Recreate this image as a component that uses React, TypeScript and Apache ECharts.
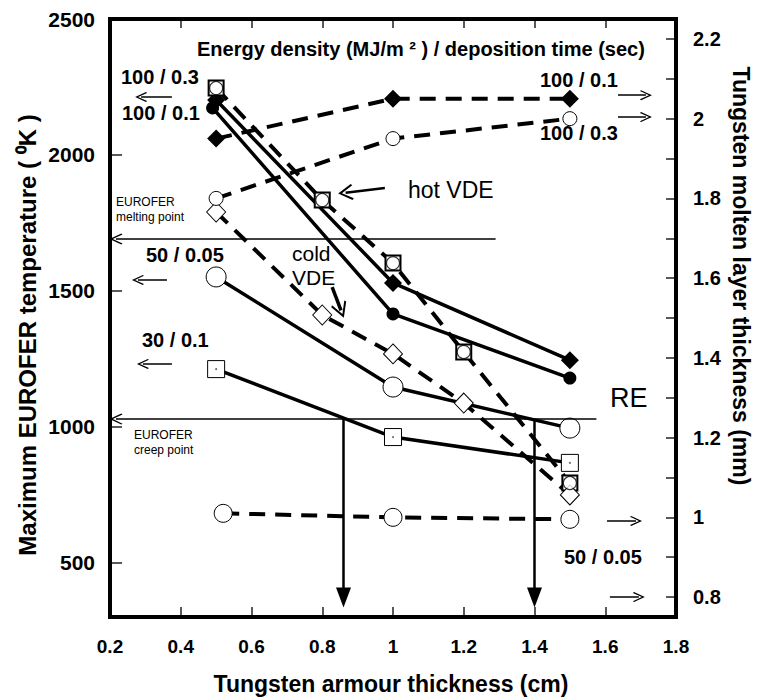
import React, { useEffect, useRef } from 'react';
import * as echarts from 'echarts';

// ---------- data ----------
const leftLabelValues = [500, 1000, 1500, 2000, 2500];
const rightLabelValues = [0.8, 1.0, 1.2, 1.4, 1.6, 1.8, 2.0, 2.2];
const rightTickValues = [0.8, 0.9, 1.0, 1.1, 1.2, 1.3, 1.4, 1.5, 1.6, 1.7, 1.8, 1.9, 2.0, 2.1, 2.2];

// EUROFER temperature (K) vs tungsten armour thickness (cm)
const hotVdeT = [[0.5, 2246], [0.8, 1834], [1.0, 1602], [1.2, 1275], [1.5, 793]];
const coldVdeT = [[0.5, 1790], [0.8, 1411], [1.0, 1268], [1.2, 1087], [1.5, 749]];
const re100_01T = [[0.5, 2202], [1.0, 1529], [1.5, 1245]];
const re100_03T = [[0.49, 2173], [1.0, 1415], [1.5, 1179]];
const re50_005T = [[0.5, 1551], [1.0, 1146], [1.5, 995]];
const re30_01T = [[0.5, 1212], [1.0, 962], [1.5, 867]];

// Tungsten molten layer thickness (mm)
const melt100_01 = [[0.5, 1.95], [1.0, 2.05], [1.5, 2.05]];
const melt100_03 = [[0.5, 1.8], [1.0, 1.95], [1.5, 2.0]];
const melt50_005 = [[0.52, 1.01], [1.0, 1.0], [1.5, 0.995]];

// reference levels
const meltingPointT = 1691;
const meltingLineEndX = 1.29;
const creepPointT = 1028;
const creepLineEndX = 1.575;
const thresholdX = [0.86, 1.4];
const thresholdArrowEndT = 372;

// annotation arrows: [xFrom, xTo, value]
const leftArrowsT = [
  [0.375, 0.288, 2213],
  [0.361, 0.279, 1540],
  [0.375, 0.293, 1231],
];
const rightArrowsMm = [
  [1.636, 1.715, 2.059],
  [1.636, 1.715, 2.004],
  [1.605, 1.687, 0.991],
  [1.613, 1.695, 0.8],
];
const hotVdeArrow = [[0.977, 1878], [0.866, 1861]];
const coldVdeArrow = [[0.828, 1514], [0.853, 1428]];

// ---------- styling ----------
const FF = '"Liberation Sans", Arial, Helvetica, sans-serif';
const CHEVRON = 'path://M50,0L100,86L91,95L50,24L9,95L0,86Z';
const BLACK = '#000';

const GRID = { left: 110, right: 82, top: 19, bottom: 82 };
const W = 758;
const H = 699;

const font = (size: number, bold: boolean) => `${bold ? 'bold ' : ''}${size}px ${FF}`;

const txt = (text: string, x: number, y: number, size: number, bold: boolean, extra: any = {}) => ({
  type: 'text',
  x,
  y,
  silent: true,
  ...extra,
  style: {
    text,
    font: font(size, bold),
    fill: BLACK,
    textAlign: extra.align || 'left',
    align: extra.align || 'left',
    textVerticalAlign: 'middle',
    verticalAlign: 'middle',
  },
});

const fmtNum = (v: number) => String(Number(v.toFixed(2)));

const dashed = { color: BLACK, width: 4, type: [16, 10] as number[] };
const solid = { color: BLACK, width: 3.5, type: 'solid' };
const openStyle = (bw: number) => ({ color: '#fff', borderColor: BLACK, borderWidth: bw });
const filledStyle = { color: BLACK, borderColor: BLACK, borderWidth: 0 };

function arrowLine(from: number[], to: number[], width: number, head: any, size: any) {
  return [
    { coord: from, symbol: 'none', lineStyle: { color: BLACK, width, type: 'solid' } },
    { coord: to, symbol: head, symbolSize: size },
  ];
}

export default function App() {
  const ref = useRef<HTMLDivElement>(null);

  useEffect(() => {
    if (!ref.current) return;
    const chart = echarts.init(ref.current, undefined, { renderer: 'svg' });

    const leftMarks: any[] = [
      arrowLine([meltingLineEndX, meltingPointT], [0.217, meltingPointT], 1.5, CHEVRON, [11, 13]),
      arrowLine([creepLineEndX, creepPointT], [0.217, creepPointT], 1.5, CHEVRON, [11, 13]),
      ...thresholdX.map((x) => arrowLine([x, creepPointT], [x, thresholdArrowEndT], 2.5, 'triangle', [15, 20])),
      ...leftArrowsT.map((a) => arrowLine([a[0], a[2]], [a[1], a[2]], 1.5, CHEVRON, [10, 12])),
      arrowLine(hotVdeArrow[0], hotVdeArrow[1], 2.5, CHEVRON, [16, 15]),
      arrowLine(coldVdeArrow[0], coldVdeArrow[1], 3.5, CHEVRON, [16, 16]),
    ];
    const rightMarks: any[] = rightArrowsMm.map((a) => arrowLine([a[0], a[2]], [a[1], a[2]], 1.5, CHEVRON, [10, 12]));

    const axisLabelBase = { color: BLACK, fontFamily: FF, fontWeight: 'bold', fontSize: 19 };
    const axisLineBase = { show: true, onZero: false, lineStyle: { color: BLACK, width: 4 } };
    const tickStyle = { color: '#222', width: 1.5 };

    const option: any = {
      animation: false,
      backgroundColor: '#fff',
      grid: { ...GRID, containLabel: false },
      xAxis: [
        {
          type: 'value', position: 'bottom', min: 0.2, max: 1.8, interval: 0.2,
          axisLine: axisLineBase,
          axisTick: { show: true, inside: true, length: 10, lineStyle: tickStyle },
          axisLabel: { ...axisLabelBase, margin: 20, formatter: (v: number) => fmtNum(v) },
          splitLine: { show: false },
        },
        {
          type: 'value', position: 'top', min: 0.2, max: 1.8, interval: 0.2,
          axisLine: axisLineBase,
          axisTick: { show: true, inside: true, length: 9, lineStyle: tickStyle },
          axisLabel: { show: false },
          splitLine: { show: false },
        },
      ],
      yAxis: [
        {
          type: 'value', position: 'left', min: 300, max: 2500,
          axisLine: axisLineBase,
          axisTick: { show: true, inside: true, length: 12, lineStyle: tickStyle, customValues: leftLabelValues },
          axisLabel: { ...axisLabelBase, fontSize: 21, margin: 15, customValues: leftLabelValues, formatter: (v: number) => String(v) },
          splitLine: { show: false },
        },
        {
          type: 'value', position: 'right', min: 0.75, max: 2.25,
          axisLine: axisLineBase,
          axisTick: { show: true, inside: true, length: 10, lineStyle: tickStyle, customValues: rightTickValues },
          axisLabel: { ...axisLabelBase, fontSize: 20, margin: 17, customValues: rightLabelValues, formatter: (v: number) => fmtNum(v) },
          splitLine: { show: false },
        },
      ],
      series: [
        {
          name: 'EUROFER 100/0.1', type: 'line', yAxisIndex: 0, data: re100_01T,
          symbol: 'diamond', symbolSize: 18, itemStyle: filledStyle, lineStyle: solid, z: 3,
          markLine: { silent: true, symbol: ['none', 'none'], label: { show: false }, data: leftMarks },
        },
        {
          name: 'EUROFER 100/0.3', type: 'line', yAxisIndex: 0, data: re100_03T,
          symbol: 'circle', symbolSize: 13, itemStyle: filledStyle, lineStyle: solid, z: 3,
        },
        {
          name: 'EUROFER 50/0.05', type: 'line', yAxisIndex: 0, data: re50_005T,
          symbol: 'circle', symbolSize: 20, itemStyle: openStyle(1), lineStyle: solid, z: 3,
        },
        {
          name: 'EUROFER 30/0.1', type: 'line', yAxisIndex: 0, data: re30_01T,
          symbol: 'rect', symbolSize: 17, itemStyle: openStyle(1), lineStyle: solid, z: 3,
        },
        {
          name: 'EUROFER 30/0.1 dot', type: 'scatter', yAxisIndex: 0, data: re30_01T,
          symbol: 'circle', symbolSize: 2, itemStyle: { color: '#444' }, z: 5,
        },
        {
          name: 'hot VDE', type: 'line', yAxisIndex: 0, data: hotVdeT,
          symbol: 'rect', symbolSize: 15, itemStyle: openStyle(2), lineStyle: dashed, z: 3,
        },
        {
          name: 'hot VDE inner', type: 'scatter', yAxisIndex: 0, data: hotVdeT,
          symbol: 'circle', symbolSize: 13, itemStyle: openStyle(1.2), z: 5,
        },
        {
          name: 'cold VDE', type: 'line', yAxisIndex: 0, data: coldVdeT,
          symbol: 'diamond', symbolSize: [19, 20], itemStyle: openStyle(1), lineStyle: dashed, z: 3,
        },
        {
          name: 'W melt 100/0.1', type: 'line', yAxisIndex: 1, data: melt100_01,
          symbol: 'diamond', symbolSize: 18, itemStyle: filledStyle, lineStyle: dashed, z: 3,
          markLine: { silent: true, symbol: ['none', 'none'], label: { show: false }, data: rightMarks },
        },
        {
          name: 'W melt 100/0.3', type: 'line', yAxisIndex: 1, data: melt100_03,
          symbol: 'circle', symbolSize: 14, itemStyle: openStyle(1), lineStyle: dashed, z: 3,
        },
        {
          name: 'W melt 50/0.05', type: 'line', yAxisIndex: 1, data: melt50_005,
          symbol: 'circle', symbolSize: 18, itemStyle: openStyle(1), lineStyle: dashed, z: 3,
        },
      ],
      graphic: {
        elements: [
          {
            type: 'rect', silent: true, z: 10,
            shape: { x: GRID.left, y: GRID.top, width: W - GRID.left - GRID.right, height: H - GRID.top - GRID.bottom },
            style: { fill: 'none', stroke: BLACK, lineWidth: 4 },
          },
          txt('Energy density (MJ/m ² ) / deposition time (sec)', 197, 49, 20, true),
          txt('100 / 0.3', 121, 77, 20, true),
          txt('100 / 0.1', 122, 113, 20, true),
          txt('EUROFER', 116, 202, 12, false),
          txt('melting point', 116, 217, 12, false),
          txt('hot VDE', 408, 190, 23, false),
          txt('50 / 0.05', 146, 255, 20, true),
          txt('cold', 292, 253, 21, false),
          txt('VDE', 292, 277, 21, false),
          txt('30 / 0.1', 142, 340, 20, true),
          txt('EUROFER', 134, 435, 12, false),
          txt('creep point', 134, 450, 12, false),
          txt('RE', 610, 398, 27, false),
          txt('100 / 0.1', 540, 80, 20, true),
          txt('100 / 0.3', 540, 133, 20, true),
          txt('50 / 0.05', 564, 557, 20, true),
          txt('Tungsten armour thickness (cm)', 391, 684, 23, true, { align: 'center' }),
          txt('Maximum EUROFER temperature ( ⁰K )', 27, 335, 24, true, { align: 'center', rotation: Math.PI / 2 }),
          txt('Tungsten molten layer thickness (mm)', 741, 276, 23, true, { align: 'center', rotation: -Math.PI / 2 }),
        ],
      },
    };

    chart.setOption(option);
    return () => chart.dispose();
  }, []);

  return (
    <div
      ref={ref}
      style={{ position: 'fixed', left: 0, top: 0, width: W, height: H, background: '#fff' }}
    />
  );
}
